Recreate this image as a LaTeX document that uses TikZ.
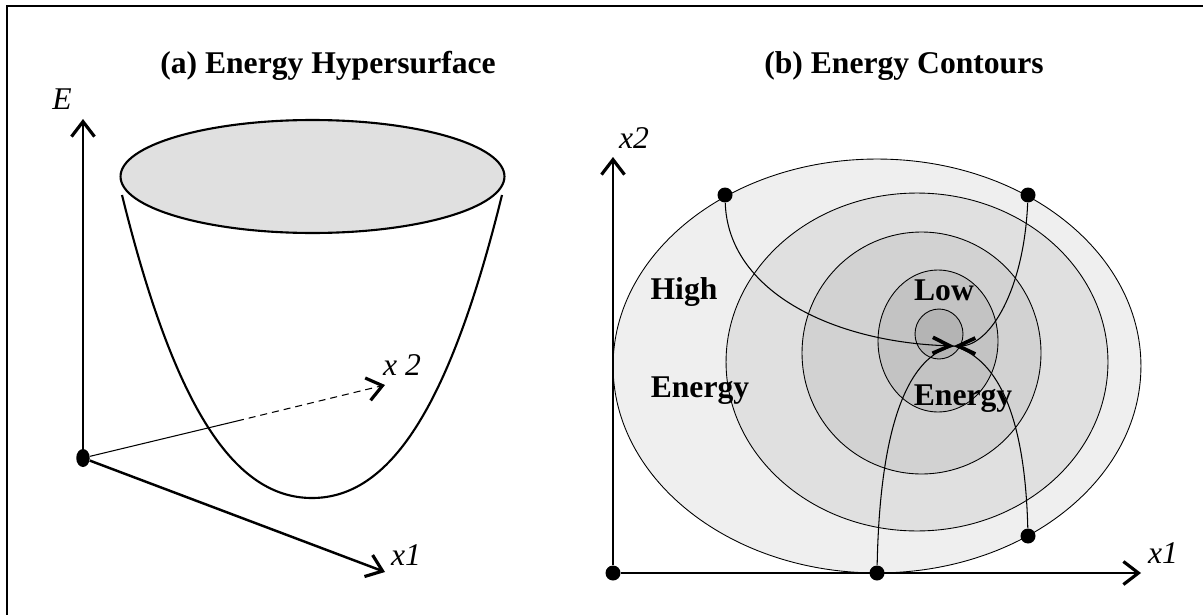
\documentclass[tikz,border=0pt]{standalone}
\usepackage{fontspec}
\setmainfont{Liberation Serif}
\usetikzlibrary{arrows.meta,shapes.geometric}
\definecolor{ringa}{HTML}{EFEFEF}
\definecolor{ringb}{HTML}{E0E0E0}
\definecolor{ringc}{HTML}{D2D2D2}
\definecolor{ringd}{HTML}{C3C3C3}
\definecolor{ringe}{HTML}{B4B4B4}
\tikzset{
  ttl/.style={font=\fontsize{18}{21}\selectfont\bfseries, anchor=base, inner sep=0pt},
  word/.style={font=\fontsize{18}{21}\selectfont\bfseries, anchor=base, inner sep=0pt},
  lbl/.style={font=\fontsize{18}{21}\selectfont\itshape, anchor=base, inner sep=0pt},
  dot/.style={circle, fill=black, inner sep=0pt, minimum size=0.3cm},
  adot/.style={ellipse, fill=black, inner sep=0pt, minimum width=0.27cm, minimum height=0.36cm},
  axis/.style={line width=1.4pt, -{Straight Barb[length=3mm,width=4.6mm,line width=1.8pt]}},
  route/.style={line width=0.6pt},
  flow/.style={route, -{Straight Barb[length=3.4mm,width=3.2mm,line width=2.1pt]}},
  contour/.style={draw=black, line width=0.5pt},
  bowl/.style={line width=1.2pt},
}
\begin{document}
\begin{tikzpicture}[x=0.02cm, y=-0.02cm]
  \useasboundingbox (0,0) rectangle (1203,615);
  \draw[line width=0.6pt] (7,615) -- (7,6) -- (1203,6);

  % (a) hypersurface
  \node[ttl] (ta) at (328,73) {(a) Energy Hypersurface};
  \draw[bowl, fill=ringb] (312.5,176.5) ellipse [x radius=3.84cm, y radius=1.13cm];
  \draw[bowl] (122,195) .. controls (175,410) and (235,498) .. (312,498)
              .. controls (389,498) and (449,410) .. (502,195);
  \node[adot] (oa) at (83,458) {};
  \coordinate (ea) at (83,119);
  \coordinate (x1a) at (385,572);
  \coordinate (x2a) at (385,385);
  \coordinate (bk) at (237,421);
  \draw[axis] (oa) -- (ea);
  \draw[axis] (oa) -- (x1a);
  \draw[route] (oa) -- (bk);
  \draw[axis, line width=0.6pt, dash pattern=on 1.4mm off 1mm] (bk) -- (x2a);
  \node[lbl] (le) at (62,110) {E};
  \node[lbl] (lx1a) at (406,565) {x1};
  \node[lbl] (lx2a) at (402,375) {x 2};

  % (b) contours
  \node[ttl] (tb) at (904,73) {(b) Energy Contours};
  \draw[contour, fill=ringa] (877,366) ellipse [x radius=5.28cm, y radius=4.14cm];
  \draw[contour, fill=ringb] (917,362) ellipse [x radius=3.82cm, y radius=3.38cm];
  \draw[contour, fill=ringc] (921.5,353) ellipse [x radius=2.39cm, y radius=2.42cm];
  \draw[contour, fill=ringd] (938,341) ellipse [x radius=1.20cm, y radius=1.42cm];
  \draw[contour, fill=ringe] (939,334) ellipse [x radius=0.48cm, y radius=0.50cm];
  \node[word] (hi) at (684,299) {High};
  \node[word] (hie) at (700,397) {Energy};
  \node[word] (lo) at (944,300) {Low};
  \node[word] (loe) at (963,405) {Energy};
  \node[dot] (ob) at (613,573) {};
  \node[dot] (d1) at (725,195) {};
  \node[dot] (d2) at (1028,195) {};
  \node[dot] (d3) at (877,573) {};
  \node[dot] (d4) at (1028,536) {};
  \coordinate (ctr) at (954,346);
  \coordinate (x1b) at (1141,573);
  \coordinate (x2b) at (613,157);
  \draw[axis] (ob) -- (x1b);
  \draw[axis] (ob) -- (x2b);
  \draw[flow] (d1) .. controls (728,290) and (830,342) .. (ctr);
  \draw[flow] (d2) .. controls (1024,290) and (990,346) .. (ctr);
  \draw[route] (d3) .. controls (880,420) and (910,355) .. (ctr);
  \draw[route] (d4) .. controls (1025,420) and (1000,360) .. (ctr);
  \node[lbl] (lx2b) at (634,149) {x2};
  \node[lbl] (lx1b) at (1163,563) {x1};
\end{tikzpicture}
\end{document}
